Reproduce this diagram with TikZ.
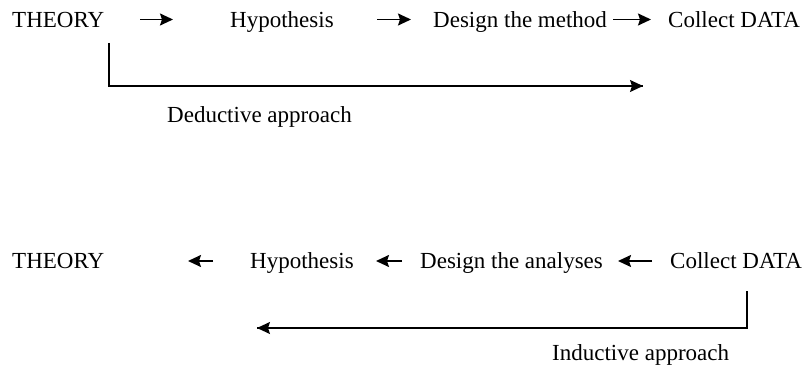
\documentclass[tikz,border=0pt]{standalone}
\usepackage{fontspec}
\setmainfont{Liberation Serif}
\usetikzlibrary{arrows.meta}
\begin{document}
\begin{tikzpicture}[x=1pt,y=-1pt,
  lbl/.style={anchor=base west,inner sep=0pt,font=\fontsize{23}{26}\selectfont},
  shortarr/.style={line width=1.7pt,-{Stealth[length=13pt,width=12pt,inset=2pt]}},
  longarr/.style={line width=1.4pt,-{Stealth[length=13pt,width=12pt,inset=2pt]}},
  elbowline/.style={line width=1.4pt}]
\useasboundingbox (0,0) rectangle (805,371);
% top row: deductive
\node[lbl] (t1) at (12,28) {THEORY};
\node[lbl] (h1) at (230,28) {Hypothesis};
\node[lbl] (d1) at (433,28) {Design the method};
\node[lbl] (c1) at (668,28) {Collect DATA};
\coordinate (a1s) at (140,19.5); \coordinate (a1e) at (173,19.5);
\coordinate (a2s) at (377,19.5); \coordinate (a2e) at (411,19.5);
\coordinate (a3s) at (613,19.5); \coordinate (a3e) at (651,19.5);
\draw[shortarr] (a1s) -- (a1e);
\draw[shortarr] (a2s) -- (a2e);
\draw[shortarr] (a3s) -- (a3e);
\coordinate (dtop) at (109,43);
\coordinate (dend) at (643,86);
\draw[elbowline] (dtop) |- (dend);
\draw[longarr] (400,86) -- (dend);
\node[lbl] (dl) at (167,123) {Deductive approach};
% bottom row: inductive
\node[lbl] (t2) at (12,269) {THEORY};
\node[lbl] (h2) at (250,269) {Hypothesis};
\node[lbl] (d2) at (420,269) {Design the analyses};
\node[lbl] (c2) at (670,269) {Collect DATA};
\coordinate (b1s) at (213,261); \coordinate (b1e) at (188,261);
\coordinate (b2s) at (402,261); \coordinate (b2e) at (376,261);
\coordinate (b3s) at (652,261); \coordinate (b3e) at (618,261);
\draw[shortarr] (b1s) -- (b1e);
\draw[shortarr] (b2s) -- (b2e);
\draw[shortarr] (b3s) -- (b3e);
\coordinate (itop) at (747,291);
\coordinate (iend) at (257,328);
\draw[elbowline] (itop) |- (iend);
\draw[longarr] (500,328) -- (iend);
\node[lbl] (il) at (552,360) {Inductive approach};
\end{tikzpicture}
\end{document}
